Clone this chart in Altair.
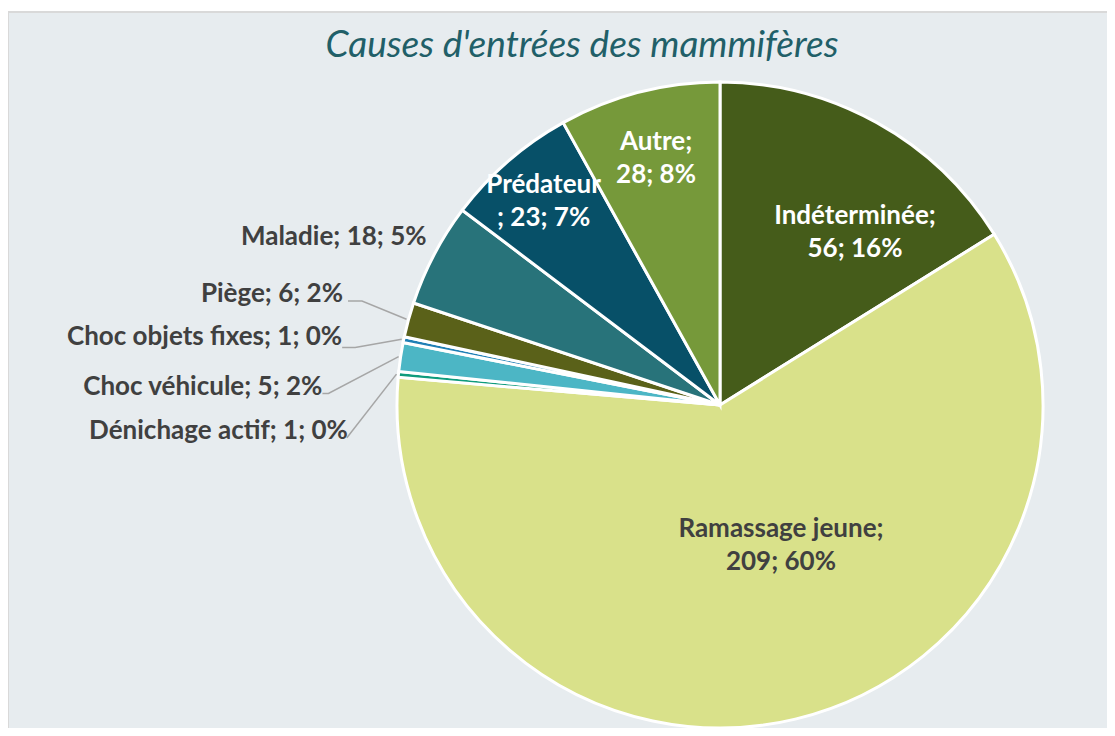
import math
import altair as alt
import pandas as pd

# ---- data ----
causes = ["Indéterminée", "Ramassage jeune", "Dénichage actif", "Choc véhicule",
          "Choc objets fixes", "Piège", "Maladie", "Prédateur", "Autre"]
counts = [56, 209, 1, 5, 1, 6, 18, 23, 28]
percents = [16, 60, 0, 2, 0, 2, 5, 7, 8]
label_texts = ["Indéterminée;\n56; 16%", "Ramassage jeune;\n209; 60%", "Dénichage actif; 1; 0%",
               "Choc véhicule; 5; 2%", "Choc objets fixes; 1; 0%", "Piège; 6; 2%",
               "Maladie; 18; 5%", "Prédateur\n; 23; 7%", "Autre;\n28; 8%"]
colors = ["#455c1a", "#d9e18a", "#0f9b7c", "#4cb6c5", "#1f7fb5",
          "#5a6119", "#28737a", "#075068", "#76993a"]

# ---- layout / style ----
W, H = 1099, 720
CX, CY, R = 712, 397, 323
# per label: (angle shift deg from slice middle, radius, inside?)
label_layout = {
    "Indéterminée": (9, 219, True),
    "Ramassage jeune": (-10, 153, True),
    "Autre": (0, 255, True),
    "Prédateur": (0, 269, True),
    "Maladie": (2, 338, False),
    "Piège": (1.1, 393, False),
    "Choc objets fixes": (-1.4, 384, False),
    "Choc véhicule": (-5.9, 398, False),
    "Dénichage actif": (-9.4, 373, False),
}
# leader line: (start offset x, start offset y, elbow length)
leaders = {
    "Piège": (5, 7, 14),
    "Choc objets fixes": (0, 11, 13),
    "Choc véhicule": (0, 7, 6),
    "Dénichage actif": (-1, 7, 0),
}
white_text = {"Indéterminée", "Autre", "Prédateur"}

total = sum(counts)
df = pd.DataFrame({"cause": causes, "value": counts, "order": list(range(len(causes)))})

rows, lines = [], []
cum = 0
for c, v, t in zip(causes, counts, label_texts):
    mid = (cum + v / 2) / total * 360
    cum += v
    da, r, inside = label_layout[c]
    a = math.radians(mid + da)
    lx = CX + r * math.sin(a)
    ly = CY - r * math.cos(a)
    rows.append({"cause": c, "text": t, "lx": lx, "ly": ly,
                 "inside": inside, "white": c in white_text})
    if c in leaders:
        sx, sy, el = leaders[c]
        p0 = (lx + sx, ly + sy)
        p1 = (p0[0] + el, p0[1])
        am = math.radians(mid)
        p2 = (CX + (R + 2) * math.sin(am), CY - (R + 2) * math.cos(am))
        for i, p in enumerate([p0, p1, p2]):
            lines.append({"cause": c, "i": i, "px": p[0], "py": p[1]})

lab = pd.DataFrame(rows)
ldf = pd.DataFrame(lines)

FONT = "Lato"
LABEL_SIZE = 26
LINE_H = 33

bg = alt.Chart(pd.DataFrame({"a": [0]})).mark_rect(
    fill="#e7ecef", stroke="#d9d9d9", strokeWidth=2
).encode(x=alt.value(0), x2=alt.value(W + 4), y=alt.value(4), y2=alt.value(H + 4))

title = alt.Chart(pd.DataFrame({"t": ["Causes d'entrées des mammifères"]})).mark_text(
    font=FONT, fontSize=37, fontStyle="italic", color="#215f68",
    align="center", baseline="alphabetic"
).encode(x=alt.value(574), y=alt.value(49), text="t:N")

pie = alt.Chart(df).mark_arc(radius=R, stroke="white", strokeWidth=3).encode(
    theta=alt.Theta("value:Q", stack=True),
    order=alt.Order("order:Q"),
    color=alt.Color("cause:N", scale=alt.Scale(domain=causes, range=colors), legend=None),
    x=alt.value(CX), y=alt.value(CY),
)

leader = alt.Chart(ldf).mark_line(color="#a6a6a6", strokeWidth=1.5).encode(
    x=alt.X("px:Q", scale=None, axis=None),
    y=alt.Y("py:Q", scale=None, axis=None),
    detail="cause:N",
    order="i:Q",
)

inside_lab = alt.Chart(lab[lab["inside"]]).mark_text(
    font=FONT, fontSize=LABEL_SIZE, fontWeight="bold", align="center", baseline="middle",
    lineBreak="\n", lineHeight=LINE_H, dy=-LINE_H / 2
).encode(
    x=alt.X("lx:Q", scale=None, axis=None),
    y=alt.Y("ly:Q", scale=None, axis=None),
    text="text:N",
    color=alt.condition("datum.white", alt.value("white"), alt.value("#404040")),
)

outside_lab = alt.Chart(lab[~lab["inside"]]).mark_text(
    font=FONT, fontSize=LABEL_SIZE, fontWeight="bold", align="right", baseline="middle",
    color="#404040"
).encode(
    x=alt.X("lx:Q", scale=None, axis=None),
    y=alt.Y("ly:Q", scale=None, axis=None),
    text="text:N",
)

chart = alt.layer(bg, title, pie, leader, inside_lab, outside_lab).properties(
    width=W, height=H, autosize=alt.AutoSizeParams(type="none"), padding=0,
    background="white",
).configure_view(stroke=None)

chart.save("out.html", embed_options={"renderer": "svg", "actions": False})
